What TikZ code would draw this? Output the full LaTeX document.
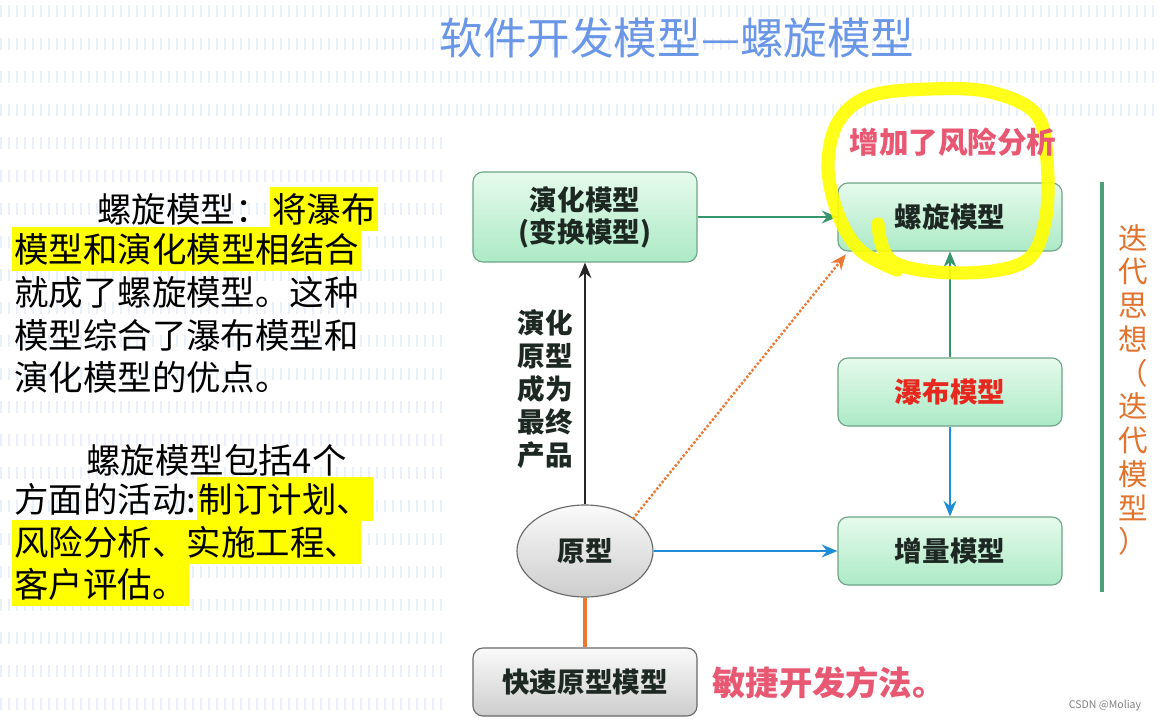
\documentclass[tikz,border=0pt]{standalone}
\usepackage{fontspec}
\setmainfont{Noto Sans CJK SC}
\usepackage{tikz}
\usetikzlibrary{positioning,shapes.geometric,arrows.meta}
\definecolor{titleblue}{RGB}{105,150,230}
\definecolor{stripeblue}{RGB}{232,240,251}
\definecolor{markyellow}{RGB}{255,255,0}
\definecolor{boxtop}{RGB}{230,250,236}
\definecolor{boxbottom}{RGB}{172,234,198}
\definecolor{boxedge}{RGB}{110,165,135}
\definecolor{greytop}{RGB}{250,250,250}
\definecolor{greybottom}{RGB}{205,205,205}
\definecolor{greyedge}{RGB}{105,105,105}
\definecolor{arrowgreen}{RGB}{55,150,105}
\definecolor{arrowblue}{RGB}{30,140,215}
\definecolor{dotorange}{RGB}{235,120,50}
\definecolor{riskpink}{RGB}{232,88,115}
\definecolor{waterred}{RGB}{230,40,30}
\definecolor{iterorange}{RGB}{225,115,45}
\definecolor{inkdark}{RGB}{30,40,35}

\begin{document}
\begin{tikzpicture}[x=0.025cm, y=-0.025cm,
  bodytext/.style={anchor=west, inner sep=0pt, font=\fontsize{24.5}{30}\selectfont},
  marked/.style={bodytext, fill=markyellow, inner xsep=1.5pt, minimum height=1.12cm},
  modelbox/.style={draw=boxedge, thick, rounded corners=0.25cm, top color=boxtop, bottom color=boxbottom,
    minimum width=5.6cm, minimum height=1.7cm, align=center, text=inkdark,
    font=\bfseries\fontsize{19.6}{22.8}\selectfont},
  greybox/.style={modelbox, draw=greyedge, top color=greytop, bottom color=greybottom},
  link/.style={line width=2pt, -{Stealth[length=11pt, width=9pt]}}]

\useasboundingbox (0,0) rectangle (1160,723);

% striped background, white under the diagram
\foreach \row in {0,...,21} {
  \draw[stripeblue, line width=0.3cm, dash pattern=on 0.05cm off 0.15cm] (0,{11+33*\row}) -- (1160,{11+33*\row});
}
\fill[white] (445,125) rectangle (1160,723);

% title
\node[text=titleblue, font=\fontsize{31}{36}\selectfont] (title) at (677,38) {软件开发模型—螺旋模型};

% left text
\node[bodytext] (p1a) at (97,209) {螺旋模型：};
\node[marked, right=0pt of p1a] (p1b) {将瀑布};
\node[marked] (p2) at (12,249) {模型和演化模型相结合};
\node[bodytext] (p3) at (14,292) {就成了螺旋模型。这种};
\node[bodytext] (p4) at (14,335) {模型综合了瀑布模型和};
\node[bodytext] (p5) at (14,377) {演化模型的优点。};
\node[bodytext] (q1) at (86,460) {螺旋模型包括4个};
\node[bodytext] (q2a) at (14,499) {方面的活动:};
\node[marked, right=0pt of q2a] (q2b) {制订计划、};
\node[marked] (q3) at (12,542) {风险分析、实施工程、};
\node[marked] (q4) at (12,584) {客户评估。};

% models
\node[modelbox, minimum height=2.25cm] (evo) at (585,217) {演化模型\\(变换模型)};
\node[modelbox] (spiral) at (950,217) {螺旋模型};
\node[modelbox, text=waterred] (water) at (950,392) {瀑布模型};
\node[modelbox] (incr) at (950,551) {增量模型};
\node[ellipse, draw=greyedge, thick, top color=greytop, bottom color=greybottom, minimum width=3.4cm,
  minimum height=2.3cm, inner sep=0pt, text=inkdark, font=\bfseries\fontsize{19.6}{22.8}\selectfont] (proto) at (585,551) {原型};
\node[greybox] (rapid) at (585,682) {快速原型模型};

% connectors
\draw[link, black!85] (proto) -- (evo);
\draw[link, arrowgreen] (evo) -- (spiral);
\draw[link, arrowgreen] (water) -- (spiral);
\draw[link, arrowblue] (water) -- (incr);
\draw[link, arrowblue] (proto) -- (incr);
\draw[link, dotorange, line width=2.4pt, dash pattern=on 0pt off 3pt, line cap=round] (proto.north east) -- ([xshift=6pt,yshift=-2pt]spiral.south west);
\draw[dotorange, line width=2.2pt] (rapid) -- (proto);

\node[align=center, text=inkdark, font=\bfseries\fontsize{19.6}{23.5}\selectfont] (evolabel) at (545,389) {演化\\原型\\成为\\最终\\产品};

% iteration note
\draw[arrowgreen!90, line width=2.4pt] (1102,182) -- (1102,592);
\node[text=iterorange, align=center, font=\fontsize{21}{24}\selectfont] (iter) at (1133,390)
  {迭\\代\\思\\想\\（\\迭\\代\\模\\型\\）};

% hand-drawn highlight
\draw[markyellow, opacity=0.9, line width=0.33cm, line cap=round, line join=round]
  plot[smooth, tension=0.6] coordinates {(878,224) (893,262) (960,273) (1024,262) (1045,222) (1047,160) (1036,114)
  (990,92) (930,89) (870,96) (838,122) (828,166) (838,214) (860,250) (897,270)};
\node[text=riskpink, font=\bfseries\fontsize{21}{24}\selectfont] (risk) at (953,142) {增加了风险分析};
\node[text=riskpink, font=\bfseries\fontsize{23.7}{28}\selectfont] (agile) at (829,683) {敏捷开发方法。};

\node[text=gray, font=\fontsize{7.5}{9}\selectfont] (mark) at (1105,706) {CSDN @Moliay};
\end{tikzpicture}
\end{document}
